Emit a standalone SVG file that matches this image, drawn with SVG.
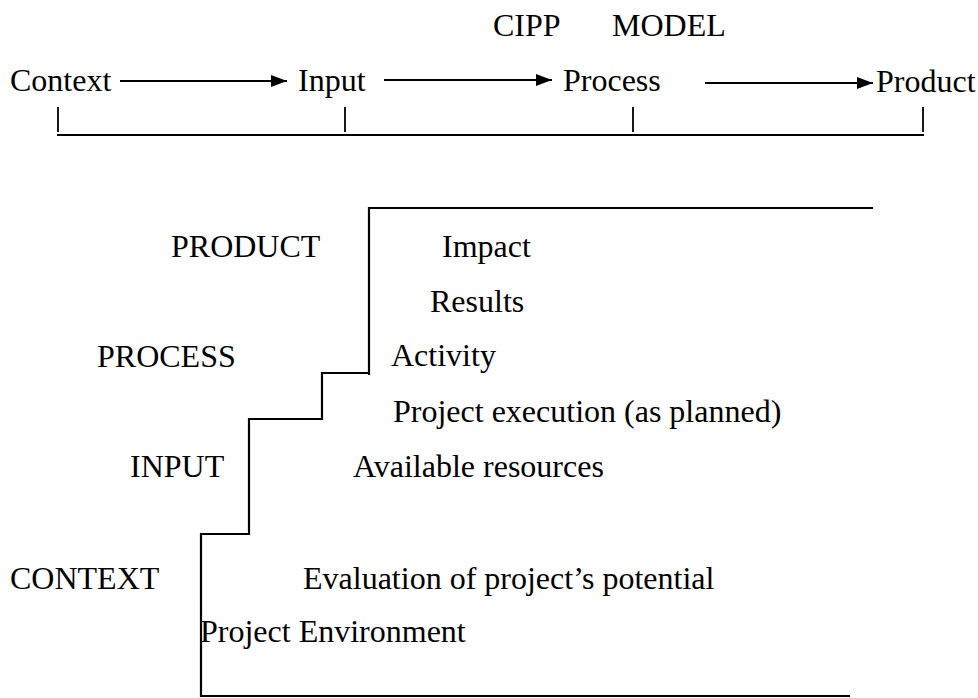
<svg xmlns="http://www.w3.org/2000/svg" width="978" height="698" viewBox="0 0 978 698">
  <style>
    text { font-family: 'Liberation Serif', Tinos, 'Times New Roman', Times, 'DejaVu Serif', serif; font-size: 32px; fill: #000; }
    .ln { stroke: #000; stroke-width: 2.2; fill: none; }
    .tick { stroke: #000; stroke-width: 1.8; fill: none; }
  </style>
  <defs>
    <marker id="head" viewBox="0 0 16 12" refX="16" refY="6" markerWidth="16" markerHeight="12" markerUnits="userSpaceOnUse" orient="auto">
      <path d="M0,0 L16,6 L0,12 Z" fill="#000"/>
    </marker>
  </defs>
  <rect width="978" height="698" fill="#fff"/>

  <g font-family="Liberation Serif, serif">
    <!-- title -->
    <g id="title">
      <text x="493" y="36">CIPP</text>
      <text x="612" y="36">MODEL</text>
    </g>

    <!-- the four stages along the top -->
    <g id="stage-context"><text x="10" y="91">Context</text></g>
    <g id="stage-input"><text x="298" y="91">Input</text></g>
    <g id="stage-process"><text x="563" y="91">Process</text></g>
    <g id="stage-product"><text x="876" y="92">Product</text></g>

    <!-- level names -->
    <g id="level-product"><text x="171" y="257">PRODUCT</text></g>
    <g id="level-process"><text x="97" y="367">PROCESS</text></g>
    <g id="level-input"><text x="130" y="477">INPUT</text></g>
    <g id="level-context"><text x="10" y="589">CONTEXT</text></g>

    <!-- level contents -->
    <g id="item-impact"><text x="442" y="257">Impact</text></g>
    <g id="item-results"><text x="430" y="312">Results</text></g>
    <g id="item-activity"><text x="391" y="366">Activity</text></g>
    <g id="item-execution"><text x="393" y="422">Project execution (as planned)</text></g>
    <g id="item-resources"><text x="353" y="477">Available resources</text></g>
    <g id="item-evaluation"><text x="303" y="589">Evaluation of project’s potential</text></g>
    <g id="item-environment"><text x="200" y="642">Project Environment</text></g>
  </g>

  <g id="connectors">
    <line class="ln" x1="120" y1="81" x2="287" y2="81" marker-end="url(#head)"/>
    <line class="ln" x1="384" y1="80" x2="552" y2="80" marker-end="url(#head)"/>
    <line class="ln" x1="705" y1="83" x2="873" y2="83" marker-end="url(#head)"/>
  </g>

  <!-- timeline bar with stage ticks -->
  <g id="timeline">
    <line class="ln" x1="57" y1="135" x2="924" y2="135"/>
    <line class="tick" x1="58" y1="107" x2="58" y2="132"/>
    <line class="tick" x1="345" y1="107" x2="345" y2="132"/>
    <line class="tick" x1="633" y1="107" x2="633" y2="132"/>
    <line class="tick" x1="923" y1="107" x2="923" y2="132"/>
  </g>

  <!-- staircase -->
  <g id="staircase">
    <polyline class="ln" points="873,208 369,208 369,375"/>
    <polyline class="ln" points="369,373 322,373 322,420"/>
    <polyline class="ln" points="322,419 249,419 249,535"/>
    <polyline class="ln" points="249,534 201,534 201,696 850,696"/>
  </g>
</svg>
